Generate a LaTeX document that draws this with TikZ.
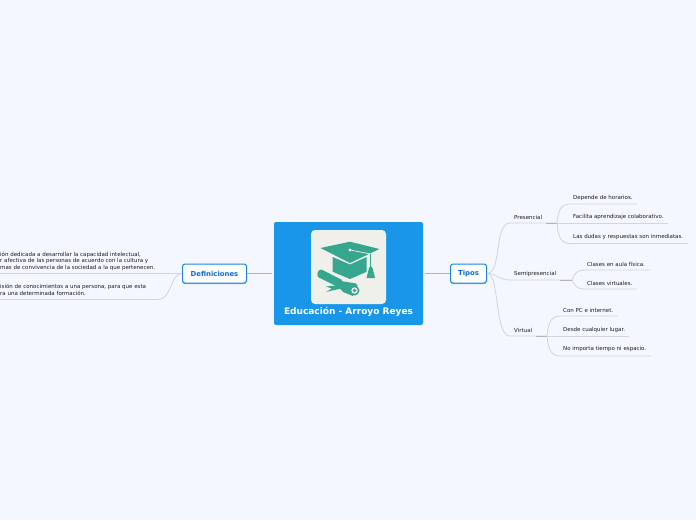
\documentclass[tikz,border=0pt]{standalone}
\usepackage{fontspec}
\setmainfont{DejaVu Sans}
\usetikzlibrary{shadows}
\definecolor{bgc}{HTML}{F4F7FF}
\definecolor{hub}{HTML}{1A96E8}
\definecolor{edge}{HTML}{1A86E0}
\definecolor{lbl}{HTML}{0A6FD6}
\definecolor{iconbg}{HTML}{F0F0EB}
\definecolor{teal}{HTML}{37A68E}
\definecolor{wire}{HTML}{D2D4DE}
\definecolor{wired}{HTML}{B4B2B8}
\definecolor{txt}{HTML}{1C1C1C}
\tikzset{
  hubbox/.style={draw=none,fill=hub,rounded corners=2pt,minimum width=149pt,minimum height=103pt,inner sep=0pt},
  iconbox/.style={draw=none,fill=iconbg,rounded corners=4pt,minimum width=75pt,minimum height=74pt,inner sep=0pt},
  topic/.style={draw=edge,line width=1pt,fill=white,rounded corners=2.5pt,minimum height=19pt,inner sep=0pt,text=lbl,font=\bfseries\fontsize{6.9}{8}\selectfont,drop shadow={shadow xshift=0pt,shadow yshift=-1.2pt,opacity=.55,fill=edge}},
  leaf/.style={anchor=west,inner sep=0pt,text=txt,font=\fontsize{5.5}{6.5}\selectfont},
  wireline/.style={draw=wire,line width=.8pt},
  stub/.style={draw=wired,line width=.9pt},
  hubline/.style={draw=wired,line width=.7pt},
  iconfill/.style={fill=teal,draw=none}
}
\begin{document}
\begin{tikzpicture}[x=1pt,y=-1pt]
\useasboundingbox (0,0) rectangle (696,520);
\fill[bgc] (0,0) rectangle (696,520);
% nodes
\node[hubbox] (hub) at (348.5,273.5) {};
\node[iconbox] (icon) at (348.5,267) {};
\node[inner sep=0pt,text=white,font=\bfseries\fontsize{9}{10}\selectfont] (title) at (348.5,312) {Educación - Arroyo Reyes};
\node[topic,minimum width=64pt] (def) at (214.5,273.5) {Definiciones};
\node[topic,minimum width=36pt] (tipos) at (468.5,273.5) {Tipos};
% icon: cap
\fill[iconfill] (332.7,257) -- (350,264.5) -- (366.7,257) -- (366.7,271.7) -- (350,279) -- (332.7,271.7) -- cycle;
\fill[iconfill] (320.5,248) -- (350,241.7) -- (379.5,249) -- (350,263) -- cycle;
\fill[iconbg] (350,250) circle (1.7);
\draw[iconbg,line width=.7pt] (350,250) -- (370.7,254);
\draw[teal,line width=1.2pt] (370.7,254.3) -- (370.7,268);
\fill[iconfill] (370.7,266) -- (372.5,268) -- (375,278) -- (366.5,278) -- (369,268) -- cycle;
% icon: diploma
\fill[iconfill] (318,277) .. controls (316.5,273) and (318,270) .. (321.5,269.5) -- (342,280) -- (339,287.5) -- cycle;
\fill[iconfill] (340.5,281) -- (356,283.5) -- (357.5,285.5) -- (353,296) -- (343,292) -- (338,286) -- cycle;
\fill[iconfill] (354.5,290.5) circle (5pt);
\fill[iconbg] (354.5,290.5) circle (3.2pt);
\fill[iconfill] (354.5,290.5) circle (1.8pt);
\fill[iconfill] (340,285) -- (326,286.5) -- (332,288.5) -- (326,292) -- (341,288.5) -- cycle;
% hub lines
\draw[hubline] (hub.west) ++(-2,0) -- (def.east);
\draw[hubline] (hub.east) ++(2,0) -- (tipos.west);
% coordinates
\coordinate (d0) at (0,273.5);
\coordinate (d1) at (0,299.5);
\coordinate (p) at (510,223);
\coordinate (pe) at (557,223);
\coordinate (s) at (510,280);
\coordinate (se) at (572,280);
\coordinate (v) at (510,336);
\coordinate (ve) at (547,336);
% left wires
\draw[wireline] (def.west) -- (d0);
\draw[wireline] (def.west) .. controls (170,273.5) and (172,299.5) .. (158,299.5) -- (d1);
% tipos wires
\draw[wireline] (tipos.east) .. controls (502,273) and (494,223) .. (p) -- (pe);
\draw[wireline] (tipos.east) .. controls (496,273) and (498,280) .. (s) -- (se);
\draw[wireline] (tipos.east) .. controls (500,273) and (494,336) .. (v) -- (ve);
\draw[stub] (546,223) -- (pe);
\draw[stub] (560,280) -- (se);
\draw[stub] (536,336) -- (ve);
% sub wires
\coordinate (p1) at (637,204); \coordinate (p2) at (668,223); \coordinate (p3) at (688,243.5);
\coordinate (s1) at (650,270); \coordinate (s2) at (637,289);
\coordinate (v1) at (618,316); \coordinate (v2) at (629,336); \coordinate (v3) at (651,356);
\draw[wireline] (pe) .. controls (558,212) and (560,204) .. (570,204) -- (p1);
\draw[wireline] (pe) -- (p2);
\draw[wireline] (pe) .. controls (558,235) and (560,243.5) .. (570,243.5) -- (p3);
\draw[wireline] (se) .. controls (574,274) and (577,270) .. (584,270) -- (s1);
\draw[wireline] (se) .. controls (574,285) and (577,289) .. (584,289) -- (s2);
\draw[wireline] (ve) .. controls (548,325) and (550,316) .. (560,316) -- (v1);
\draw[wireline] (ve) -- (v2);
\draw[wireline] (ve) .. controls (548,347) and (550,356) .. (560,356) -- (v3);
% labels
\node[leaf] (t1) at (0,254.7) {ión dedicada a desarrollar la capacidad intelectual,};
\node[leaf] (t2) at (0,261.2) {r afectiva de las personas de acuerdo con la cultura y};
\node[leaf] (t3) at (0,267.7) {mas de convivencia de la sociedad a la que pertenecen.};
\node[leaf] (t4) at (0,287.2) {isión de conocimientos a una persona, para que esta};
\node[leaf] (t5) at (0,293.2) {ra una determinada formación.};
\node[leaf] (a) at (514,217.4) {Presencial};
\node[leaf] (b) at (514,274.4) {Semipresencial};
\node[leaf] (c) at (514,330.4) {Virtual};
\node[leaf] (a1) at (573,198.4) {Depende de horarios.};
\node[leaf] (a2) at (573,217.4) {Facilita aprendizaje colaborativo.};
\node[leaf] (a3) at (573,237.4) {Las dudas y respuestas son inmediatas.};
\node[leaf] (b1) at (587,264.4) {Clases en aula física.};
\node[leaf] (b2) at (587,283.4) {Clases virtuales.};
\node[leaf] (c1) at (563,310.4) {Con PC e internet.};
\node[leaf] (c2) at (563,330.4) {Desde cualquier lugar.};
\node[leaf] (c3) at (563,349.4) {No importa tiempo ni espacio.};
\end{tikzpicture}
\end{document}
